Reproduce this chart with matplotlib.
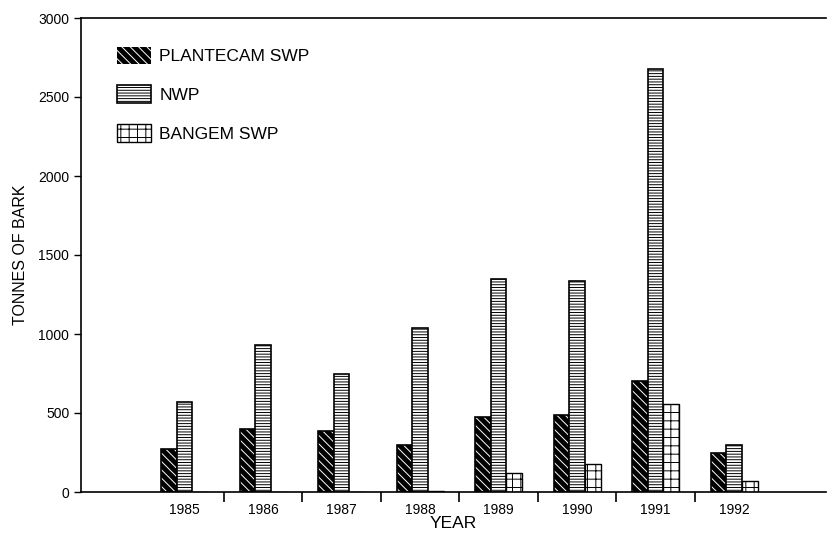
import numpy as np
import matplotlib.pyplot as plt

plt.rcParams['font.family'] = ['Liberation Sans', 'DejaVu Sans']
plt.rcParams['hatch.linewidth'] = 0.7

# data
years = ['1985', '1986', '1987', '1988', '1989', '1990', '1991', '1992']
plantecam = [275, 400, 385, 297, 475, 485, 705, 250]
nwp = [570, 928, 750, 1035, 1350, 1333, 2675, 295]
bangem = [0, 0, 0, 5, 118, 180, 555, 72]

x = np.arange(len(years))
w = 0.2

fig = plt.figure(figsize=(8.27, 5.34), dpi=100)
ax = fig.add_axes([81 / 827, 42 / 534, 745 / 827, 474 / 534])

# PLANTECAM: black fill with white diagonal lines
b1 = ax.bar(x - w, plantecam, w, color='black', linewidth=0)
b1h = ax.bar(x - w, plantecam, w, fill=False, hatch='\\\\\\\\', edgecolor='white', linewidth=0)
ax.bar(x - w, plantecam, w, fill=False, edgecolor='black', linewidth=1.2)

b2 = ax.bar(x, nwp, w, color='white', hatch='------', edgecolor='black', linewidth=1.2)
b3 = ax.bar(x + w, bangem, w, color='white', hatch='++', edgecolor='black', linewidth=1.0)

ax.set_xlim(-1.32, 8.17)
ax.set_ylim(0, 3000)
ax.set_yticks([0, 500, 1000, 1500, 2000, 2500, 3000])
ax.set_xticks(x)
ax.set_xticklabels(years)
ax.set_xticks(x[:-1] + 0.5, minor=True)
ax.tick_params(axis='x', which='major', length=0, labelsize=10, pad=8)
ax.tick_params(axis='x', which='minor', length=7, width=1.2, direction='out')
ax.tick_params(axis='y', length=5, width=1, labelsize=10)
ax.spines['right'].set_visible(False)
for s in ['left', 'top', 'bottom']:
    ax.spines[s].set_linewidth(1.2)

ax.set_xlabel('YEAR', fontsize=12.5, labelpad=-1)
ax.set_ylabel('TONNES OF BARK', fontsize=11.5, labelpad=7)

ax.legend([(b1[0], b1h[0]), b2[0], b3[0]], ['PLANTECAM SWP', 'NWP', 'BANGEM SWP'],
          loc='upper left', bbox_to_anchor=(108 / 827, 1 - 38 / 534),
          bbox_transform=fig.transFigure, frameon=False, fontsize=12.5,
          handlelength=2.0, handleheight=1.2, handletextpad=0.45,
          labelspacing=1.2, borderpad=0)

plt.savefig('out.png', dpi=100)
